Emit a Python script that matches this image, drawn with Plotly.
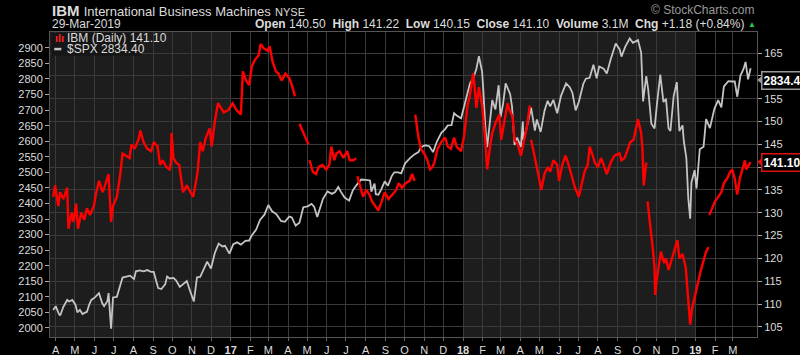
import plotly.graph_objects as go

# ---------------- data ----------------
ibm_dates = [
    "2016-03-28","2016-03-31","2016-04-05","2016-04-08","2016-04-13","2016-04-19","2016-04-21","2016-04-26","2016-04-29",
    "2016-05-03","2016-05-06","2016-05-11","2016-05-16","2016-05-20","2016-05-25","2016-05-31","2016-06-03","2016-06-08",
    "2016-06-14","2016-06-20","2016-06-23","2016-06-27","2016-06-30","2016-07-06","2016-07-11","2016-07-15","2016-07-20",
    "2016-07-26","2016-07-29","2016-08-03","2016-08-09","2016-08-12","2016-08-17","2016-08-23","2016-08-29","2016-09-02",
    "2016-09-08","2016-09-12","2016-09-16","2016-09-22","2016-09-27","2016-09-29","2016-09-30","2016-10-03","2016-10-07",
    "2016-10-12","2016-10-18","2016-10-24","2016-10-28","2016-11-03","2016-11-07","2016-11-10","2016-11-14","2016-11-18",
    "2016-11-23","2016-11-29","2016-12-02","2016-12-07","2016-12-12","2016-12-16","2016-12-21","2016-12-28",
    "2017-01-04","2017-01-10","2017-01-17","2017-01-20","2017-01-25","2017-01-30","2017-02-03","2017-02-08","2017-02-14",
    "2017-02-17","2017-02-22","2017-02-28","2017-03-03","2017-03-08","2017-03-13","2017-03-17","2017-03-22","2017-03-28",
    "2017-04-03","2017-04-07","2017-04-12","2017-04-18 12:00","2017-04-19","2017-04-24","2017-04-28","2017-05-03",
    "2017-05-04 12:00","2017-05-05","2017-05-10","2017-05-15","2017-05-19","2017-05-25","2017-05-31","2017-06-05",
    "2017-06-08","2017-06-13","2017-06-16","2017-06-21","2017-06-27","2017-07-03","2017-07-07","2017-07-13","2017-07-17",
    "2017-07-18 12:00","2017-07-19","2017-07-24","2017-07-28","2017-08-02","2017-08-07","2017-08-11","2017-08-16",
    "2017-08-21","2017-08-25","2017-08-31","2017-09-06","2017-09-12","2017-09-18","2017-09-22","2017-09-27","2017-10-03",
    "2017-10-09","2017-10-13","2017-10-17","2017-10-17 18:00","2017-10-18","2017-10-23","2017-10-27","2017-11-01",
    "2017-11-06","2017-11-10","2017-11-14","2017-11-17","2017-11-22","2017-11-28","2017-12-04","2017-12-08","2017-12-13",
    "2017-12-18","2017-12-22","2017-12-29",
    "2018-01-03","2018-01-08","2018-01-11","2018-01-17","2018-01-19","2018-01-22","2018-01-26","2018-01-31","2018-02-05",
    "2018-02-08","2018-02-13","2018-02-16","2018-02-22","2018-02-27","2018-03-02","2018-03-07","2018-03-12","2018-03-15",
    "2018-03-20","2018-03-23","2018-03-28","2018-04-02","2018-04-06","2018-04-11","2018-04-16","2018-04-17 12:00",
    "2018-04-18","2018-04-23","2018-04-27","2018-05-02","2018-05-04","2018-05-09","2018-05-14","2018-05-18","2018-05-23",
    "2018-05-29","2018-06-01","2018-06-06","2018-06-11","2018-06-15","2018-06-20","2018-06-26","2018-07-02","2018-07-06",
    "2018-07-11","2018-07-16","2018-07-19","2018-07-24","2018-07-27","2018-08-01","2018-08-06","2018-08-10","2018-08-15",
    "2018-08-21","2018-08-27","2018-09-04","2018-09-07","2018-09-12","2018-09-17","2018-09-21","2018-09-26","2018-10-01",
    "2018-10-03","2018-10-08","2018-10-10","2018-10-12","2018-10-16","2018-10-17 12:00","2018-10-18","2018-10-22",
    "2018-10-24","2018-10-26","2018-10-29","2018-10-30","2018-11-01","2018-11-05","2018-11-08","2018-11-13","2018-11-16",
    "2018-11-20","2018-11-26","2018-11-30","2018-12-04","2018-12-07","2018-12-12","2018-12-17","2018-12-19","2018-12-21",
    "2018-12-24","2018-12-27","2018-12-31",
    "2019-01-04","2019-01-09","2019-01-14","2019-01-18","2019-01-22","2019-01-22 18:00","2019-01-23","2019-01-28",
    "2019-02-01","2019-02-06","2019-02-11","2019-02-15","2019-02-20","2019-02-25","2019-02-28","2019-03-04","2019-03-06",
    "2019-03-08","2019-03-12","2019-03-15","2019-03-20","2019-03-22","2019-03-26","2019-03-29",
]
ibm_close = [
    133.5,136,131.5,134.5,133,135.5,126.5,130,128,
    132,126.5,130,128.5,131,129.5,131.5,134,137,
    134.5,137.5,138.5,128,131.5,133.5,138,143,142.5,
    142,145,144,146,148,145.5,144,143.5,145.5,
    144.5,140.5,141.5,140,139.5,141,147.5,142,141,
    140.5,134.5,136,135,133.5,136.5,139,145.5,143.5,
    146.5,148.5,144.5,150,154,153,152,152.5,
    154,152.5,151.5,161,159,158,162,163.5,164.5,
    167,166,165.5,166.5,163,161,160.5,159,160.5,
    159.5,158,155.5,None,149.5,148,146.5,145,
    None,141.5,139,138.5,140,140.5,139.5,140.5,
    144.5,141.5,143,143.5,142,143.5,141.5,141.5,142,
    None,138,135.5,133.5,135,134,132.5,131.5,
    130.5,132,134.5,133,134,135,136.5,135.5,136.5,
    137,138.5,137,None,151.5,146.5,144,143,
    141.5,139.5,140,141,144,145.5,146.5,144.5,144,
    146.5,144.5,143.5,
    147,153.5,155,160.5,158,153,157.5,153.5,146,
    139.5,145,147.5,150,151.5,146,150,154,152.5,
    151,146,145,142.5,145.5,148.5,153.5,None,
    146,143,140,136.5,135,138.5,140,139,141.5,
    140.5,137,140.5,142.5,141,138.5,135.5,133.5,136,
    139,140.5,144.5,142.5,141,140,142,140.5,138.5,
    141,142.5,143,141.5,142,144,145.5,146,149,
    150.5,147.5,144,136,141,None,132.5,128,
    125,122.5,118,112,115,119,121.5,119,120,
    117.5,120.5,122,124,120,121,118,114,110,
    105.5,109,111.5,
    114.5,117,119.5,121.5,122.5,None,129.5,131,
    132.5,133.5,134.5,136.5,137.5,139,139.5,137.5,135.5,
    134,137.5,139,141.5,139.5,140.5,141.10,
]

spx_dates = [
    "2016-03-28","2016-04-01","2016-04-06","2016-04-08","2016-04-13","2016-04-19","2016-04-22","2016-04-27","2016-05-02",
    "2016-05-05","2016-05-09","2016-05-13","2016-05-18","2016-05-20","2016-05-24","2016-05-27","2016-06-02","2016-06-08",
    "2016-06-13","2016-06-16","2016-06-21","2016-06-23","2016-06-27","2016-06-30","2016-07-06","2016-07-11","2016-07-15",
    "2016-07-21","2016-07-27","2016-08-02","2016-08-05","2016-08-11","2016-08-17","2016-08-23","2016-08-29","2016-09-02",
    "2016-09-09","2016-09-14","2016-09-20","2016-09-23","2016-09-27","2016-10-03","2016-10-07","2016-10-13","2016-10-18",
    "2016-10-24","2016-10-28","2016-11-02","2016-11-04","2016-11-09","2016-11-14","2016-11-18","2016-11-25","2016-12-01",
    "2016-12-07","2016-12-13","2016-12-19","2016-12-23","2016-12-30",
    "2017-01-05","2017-01-11","2017-01-17","2017-01-24","2017-01-30","2017-02-03","2017-02-10","2017-02-16","2017-02-23",
    "2017-03-01","2017-03-07","2017-03-14","2017-03-21","2017-03-27","2017-04-03","2017-04-07","2017-04-13","2017-04-19",
    "2017-04-25","2017-05-02","2017-05-08","2017-05-12","2017-05-17","2017-05-22","2017-05-26","2017-06-02","2017-06-09",
    "2017-06-14","2017-06-19","2017-06-23","2017-06-29","2017-07-06","2017-07-12","2017-07-18","2017-07-25","2017-08-01",
    "2017-08-08","2017-08-10","2017-08-15","2017-08-17","2017-08-21","2017-08-25","2017-08-31","2017-09-05","2017-09-11",
    "2017-09-15","2017-09-21","2017-09-26","2017-10-02","2017-10-09","2017-10-16","2017-10-23","2017-10-27","2017-11-03",
    "2017-11-09","2017-11-15","2017-11-21","2017-11-28","2017-12-04","2017-12-08","2017-12-14","2017-12-18","2017-12-22",
    "2017-12-29",
    "2018-01-03","2018-01-08","2018-01-12","2018-01-17","2018-01-22","2018-01-26","2018-01-31","2018-02-02","2018-02-05",
    "2018-02-08","2018-02-12","2018-02-16","2018-02-21","2018-02-26","2018-03-01","2018-03-05","2018-03-09","2018-03-13",
    "2018-03-16","2018-03-19","2018-03-23","2018-03-27","2018-04-02","2018-04-05","2018-04-06","2018-04-11","2018-04-18",
    "2018-04-24","2018-04-27","2018-05-03","2018-05-09","2018-05-14","2018-05-18","2018-05-23","2018-05-29","2018-06-04",
    "2018-06-12","2018-06-18","2018-06-22","2018-06-27","2018-07-02","2018-07-09","2018-07-13","2018-07-19","2018-07-25",
    "2018-07-30","2018-08-03","2018-08-10","2018-08-15","2018-08-21","2018-08-29","2018-09-04","2018-09-07","2018-09-13",
    "2018-09-20","2018-09-25","2018-10-01","2018-10-03","2018-10-08","2018-10-10","2018-10-11","2018-10-16","2018-10-19",
    "2018-10-24","2018-10-29","2018-11-02","2018-11-07","2018-11-12","2018-11-16","2018-11-20","2018-11-23","2018-11-28",
    "2018-12-03","2018-12-07","2018-12-12","2018-12-14","2018-12-18","2018-12-21","2018-12-24","2018-12-26","2018-12-31",
    "2019-01-03","2019-01-08","2019-01-14","2019-01-18","2019-01-24","2019-01-31","2019-02-06","2019-02-11","2019-02-15",
    "2019-02-22","2019-02-27","2019-03-04","2019-03-08","2019-03-13","2019-03-18","2019-03-21","2019-03-25","2019-03-29",
]
spx_close = [
    2058,2070,2045,2040,2068,2090,2085,2090,2075,
    2050,2058,2045,2050,2052,2077,2090,2099,2112,
    2080,2070,2085,2112,1998,2098,2100,2137,2162,
    2165,2168,2157,2182,2185,2182,2186,2180,2180,
    2128,2125,2140,2165,2159,2161,2153,2132,2140,
    2151,2126,2097,2085,2163,2164,2182,2213,2191,
    2241,2271,2262,2264,2239,
    2269,2275,2268,2280,2281,2297,2316,2347,2364,
    2395,2375,2365,2344,2341,2358,2355,2329,2338,
    2388,2391,2399,2390,2357,2394,2415,2439,2431,
    2437,2453,2438,2419,2409,2443,2460,2477,2476,
    2474,2438,2464,2430,2428,2443,2471,2457,2488,
    2500,2500,2497,2529,2544,2557,2565,2581,2587,
    2584,2565,2599,2627,2639,2651,2652,2690,2683,
    2674,
    2713,2747,2786,2802,2832,2873,2824,2762,2649,
    2581,2656,2732,2702,2780,2678,2720,2786,2766,
    2752,2712,2588,2612,2582,2663,2604,2642,2708,
    2634,2670,2630,2697,2730,2712,2733,2690,2746,
    2786,2773,2755,2699,2726,2784,2801,2804,2846,
    2802,2840,2833,2818,2863,2914,2896,2872,2904,
    2930,2916,2924,2925,2884,2785,2728,2809,2767,
    2656,2641,2723,2814,2726,2736,2641,2633,2744,
    2790,2633,2651,2600,2546,2417,2351,2468,2507,
    2448,2574,2582,2671,2642,2704,2732,2709,2776,
    2793,2792,2792,2743,2811,2833,2855,2799,2834.40,
]

month_ticks = [
    "2016-04-01","2016-05-01","2016-06-01","2016-07-01","2016-08-01","2016-09-01","2016-10-01","2016-11-01","2016-12-01",
    "2017-01-01","2017-02-01","2017-03-01","2017-04-01","2017-05-01","2017-06-01","2017-07-01","2017-08-01","2017-09-01",
    "2017-10-01","2017-11-01","2017-12-01","2018-01-01","2018-02-01","2018-03-01","2018-04-01","2018-05-01","2018-06-01",
    "2018-07-01","2018-08-01","2018-09-01","2018-10-01","2018-11-01","2018-12-01","2019-01-01","2019-02-01","2019-03-01",
]
month_labels = [
    "A","M","J","J","A","S","O","N","D",
    "<b>17</b>","F","M","A","M","J","J","A","S","O","N","D",
    "<b>18</b>","F","M","A","M","J","J","A","S","O","N","D",
    "<b>19</b>","F","M",
]
spx_ticks = list(range(2000, 2901, 50))
ibm_ticks = list(range(105, 166, 5))

shade_starts = ["2016-03-20", "2018-01-01"]
shade_ends = ["2017-01-01", "2019-01-01"]

# ---------------- figure ----------------
FONT = "Liberation Sans, Arial, sans-serif"
TXT = "#dcdcdc"
GRID = "#3a3a3a"

fig = go.Figure()
fig.add_trace(go.Scatter(x=spx_dates, y=spx_close, mode="lines", name="$SPX",
                         line=dict(color="#c4c4c4", width=1.8), yaxis="y"))
fig.add_trace(go.Scatter(x=ibm_dates, y=ibm_close, mode="lines", name="IBM",
                         line=dict(color="#ff0000", width=2.4), connectgaps=False, yaxis="y2"))

shapes = []
for s, e in zip(shade_starts, shade_ends):
    shapes.append(dict(type="rect", xref="x", yref="paper", x0=s, x1=e, y0=0, y1=1,
                       fillcolor="#1d1d1d", line=dict(width=0), layer="below"))
# legend box
shapes.append(dict(type="rect", xref="paper", yref="paper", x0=0.002, x1=0.128, y0=0.922, y1=0.997,
                   fillcolor="#161616", line=dict(width=0), layer="above"))
# legend icon for SPX
shapes.append(dict(type="line", xref="paper", yref="paper", x0=0.006, x1=0.016, y0=0.944, y1=0.944,
                   line=dict(color="#c4c4c4", width=2.5)))

W = 707.0
H = 305.0
def px(x):
    return (x - 50) / W
def py(y):
    return (337 - y) / H

# small pointer triangles for the right-side value boxes
for yy, col in [(80, "#9a9a9a"), (162, "#e01010")]:
    shapes.append(dict(type="path", xref="paper", yref="paper",
                       path="M {a},{b} L {c},{d} L {c},{e} Z".format(
                           a=px(757), b=py(yy), c=px(762), d=py(yy - 4), e=py(yy + 4)),
                       fillcolor=col, line=dict(width=0)))

annotations = [
    dict(xref="paper", yref="paper", x=0, y=py(11), xanchor="left", yanchor="middle", showarrow=False,
         text="<b>IBM</b> <span style='font-size:13px'>International Business Machines</span> <span style='font-size:11px'>NYSE</span>",
         font=dict(family=FONT, size=15, color=TXT)),
    dict(xref="paper", yref="paper", x=0, y=py(24), xanchor="left", yanchor="middle", showarrow=False,
         text="29-Mar-2019", font=dict(family=FONT, size=12, color=TXT)),
    dict(xref="paper", yref="paper", x=px(746), y=py(24), xanchor="right", yanchor="middle", showarrow=False,
         text="<b>Open</b> 140.50  <b>High</b> 141.22  <b>Low</b> 140.15  <b>Close</b> 141.10  <b>Volume</b> 3.1M  <b>Chg</b> +1.18 (+0.84%)",
         font=dict(family=FONT, size=12, color=TXT)),
    dict(xref="paper", yref="paper", x=px(752), y=py(24), xanchor="center", yanchor="middle", showarrow=False,
         text="▲", font=dict(family=FONT, size=8, color="#22cc44")),
    dict(xref="paper", yref="paper", x=px(757), y=py(10), xanchor="right", yanchor="middle", showarrow=False,
         text="© StockCharts.com", font=dict(family=FONT, size=12, color="#9a9a9a")),
    dict(xref="paper", yref="paper", x=px(53), y=py(38), xanchor="left", yanchor="middle", showarrow=False,
         text="<b>ılı</b>", font=dict(family=FONT, size=11, color="#ff2020")),
    dict(xref="paper", yref="paper", x=px(65), y=py(38), xanchor="left", yanchor="middle", showarrow=False,
         text="IBM (Daily) 141.10", font=dict(family=FONT, size=12, color=TXT)),
    dict(xref="paper", yref="paper", x=px(65), y=py(49), xanchor="left", yanchor="middle", showarrow=False,
         text="$SPX 2834.40", font=dict(family=FONT, size=12, color=TXT)),
    dict(xref="paper", yref="paper", x=px(761), y=py(80), xanchor="left", yanchor="middle", showarrow=False,
         text="<b>2834.40</b>", font=dict(family=FONT, size=12, color="#ffffff"),
         bgcolor="#000000", bordercolor="#9a9a9a", borderwidth=1.5, borderpad=1),
    dict(xref="paper", yref="paper", x=px(761), y=py(162), xanchor="left", yanchor="middle", showarrow=False,
         text="<b>141.10</b>", font=dict(family=FONT, size=12, color="#ffffff"),
         bgcolor="#000000", bordercolor="#e01010", borderwidth=1.5, borderpad=1),
]

fig.update_layout(
    width=800, height=355,
    margin=dict(l=50, r=43, t=32, b=18, autoexpand=False),
    paper_bgcolor="#000000",
    plot_bgcolor="#000000",
    showlegend=False,
    font=dict(family=FONT, size=11, color=TXT),
    xaxis=dict(type="date", range=["2016-03-23", "2019-04-08"], tickvals=month_ticks, ticktext=month_labels,
               showgrid=True, gridcolor=GRID, gridwidth=1, ticks="outside", ticklen=3, tickcolor="#666",
               tickfont=dict(family=FONT, size=11, color=TXT), showline=True, linecolor="#555", mirror=True,
               zeroline=False, tickangle=0, automargin=False),
    yaxis=dict(range=[1971, 2951], tickvals=spx_ticks, showgrid=False, ticks="outside", ticklen=4,
               tickcolor="#aaa", tickfont=dict(family=FONT, size=11, color=TXT), showline=True,
               linecolor="#555", zeroline=False, automargin=False),
    yaxis2=dict(range=[102.8, 169.6], tickvals=ibm_ticks, overlaying="y", side="right", showgrid=True,
                gridcolor=GRID, gridwidth=1, ticks="outside", ticklen=4, tickcolor="#aaa",
                tickfont=dict(family=FONT, size=11, color=TXT), showline=True, linecolor="#555",
                zeroline=False, automargin=False),
    shapes=shapes,
    annotations=annotations,
)

fig.write_html("out.html", config={"displayModeBar": False},
               post_script="document.body.style.margin='0';document.body.style.overflow='hidden';")
